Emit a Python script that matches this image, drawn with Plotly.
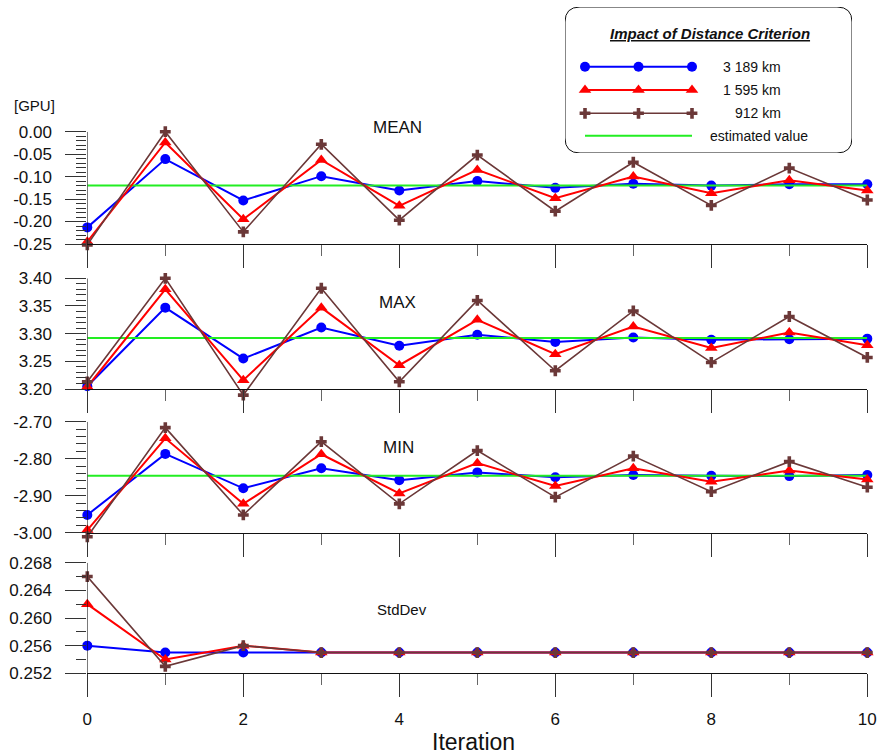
import plotly.graph_objects as go

# ---------------- data ----------------
iterations = list(range(11))
series_names = ["3 189 km", "1 595 km", "912 km"]

mean_3189 = [-0.213, -0.061, -0.153, -0.099, -0.131, -0.110, -0.125, -0.116, -0.120, -0.117, -0.117]
mean_1595 = [-0.245, -0.024, -0.195, -0.063, -0.165, -0.085, -0.148, -0.100, -0.137, -0.108, -0.131]
mean_912 = [-0.252, 0.000, -0.223, -0.028, -0.197, -0.052, -0.177, -0.068, -0.164, -0.081, -0.152]

max_3189 = [3.205, 3.347, 3.255, 3.311, 3.278, 3.298, 3.285, 3.293, 3.289, 3.290, 3.291]
max_1595 = [3.204, 3.380, 3.216, 3.347, 3.243, 3.325, 3.263, 3.313, 3.274, 3.302, 3.279]
max_912 = [3.213, 3.400, 3.189, 3.382, 3.213, 3.360, 3.233, 3.341, 3.248, 3.331, 3.257]

min_3189 = [-2.952, -2.787, -2.880, -2.826, -2.858, -2.837, -2.850, -2.844, -2.846, -2.847, -2.844]
min_1595 = [-2.993, -2.745, -2.922, -2.788, -2.894, -2.812, -2.874, -2.826, -2.862, -2.832, -2.856]
min_912 = [-3.011, -2.716, -2.952, -2.754, -2.922, -2.778, -2.904, -2.793, -2.889, -2.808, -2.877]

std_3189 = [0.256, 0.255, 0.255, 0.255, 0.255, 0.255, 0.255, 0.255, 0.255, 0.255, 0.255]
std_1595 = [0.262, 0.254, 0.256, 0.255, 0.255, 0.255, 0.255, 0.255, 0.255, 0.255, 0.255]
std_912 = [0.266, 0.253, 0.256, 0.255, 0.255, 0.255, 0.255, 0.255, 0.255, 0.255, 0.255]

estimated_mean = -0.120
estimated_max = 3.292
estimated_min = -2.846

panel_titles = ["MEAN", "MAX", "MIN", "StdDev"]
y_ranges = [[-0.25, 0.0], [3.20, 3.40], [-3.00, -2.70], [0.252, 0.268]]
y_extend = [0.006, 0.015, 0.015, 0.0]        # room below the axis for dipping marks
y_dticks = [0.05, 0.05, 0.10, 0.004]
y_minor = [0.01, 0.01, 0.02, 0.002]
y_decimals = [2, 2, 2, 3]
x_ticks = [0, 2, 4, 6, 8, 10]

# ---------------- styling ----------------
W, H = 880, 755
FONT = "Liberation Sans, Arial, sans-serif"
colors = ["#0000ff", "#ff0000", "#6b3838"]
symbols = ["circle", "triangle-up", "cross"]
msizes = [10, 11, 9]
lwidths = [2, 2, 1.6]
green = "#22ee22"

x_left, x_right = 87.3, 867.3
panel_px = [(131.7, 244.0), (278.3, 389.0), (421.7, 532.7), (562.7, 673.3)]


def py(p):
    return 1 - p / H


def px(p):
    return p / W


fig = go.Figure()

panel_data = [
    (mean_3189, mean_1595, mean_912, estimated_mean),
    (max_3189, max_1595, max_912, estimated_max),
    (min_3189, min_1595, min_912, estimated_min),
    (std_3189, std_1595, std_912, None),
]

for k, (s1, s2, s3, est) in enumerate(panel_data):
    xa = "x" if k == 0 else f"x{k+1}"
    ya = "y" if k == 0 else f"y{k+1}"
    seq = [(0, s1)]
    if est is not None:
        seq.append(("est", est))
    seq += [(1, s2), (2, s3)]
    for idx, vals in seq:
        if idx == "est":
            fig.add_trace(go.Scatter(
                x=[iterations[0], iterations[-1]], y=[vals, vals], mode="lines",
                line=dict(color=green, width=2), xaxis=xa, yaxis=ya,
                showlegend=False, hoverinfo="skip", cliponaxis=False))
        else:
            fig.add_trace(go.Scatter(
                x=iterations, y=vals, mode="lines+markers",
                line=dict(color=colors[idx], width=lwidths[idx]),
                marker=dict(symbol=symbols[idx], size=msizes[idx], color=colors[idx],
                            line=dict(width=0)),
                xaxis=xa, yaxis=ya, showlegend=False, name=series_names[idx],
                cliponaxis=False))

layout = dict(
    width=W, height=H, autosize=False,
    margin=dict(l=0, r=0, t=0, b=0, pad=0),
    paper_bgcolor="white", plot_bgcolor="rgba(0,0,0,0)",
    font=dict(family=FONT, size=16, color="#111"),
    showlegend=False,
)

for k in range(4):
    top, bot = panel_px[k]
    lo, hi = y_ranges[k]
    ppu = (bot - top) / (hi - lo)
    lo_ext = lo - y_extend[k]
    bot_ext = bot + y_extend[k] * ppu
    xn = "xaxis" if k == 0 else f"xaxis{k+1}"
    yn = "yaxis" if k == 0 else f"yaxis{k+1}"
    xa = "x" if k == 0 else f"x{k+1}"
    n_major = int(round((hi - lo) / y_dticks[k]))
    major_vals = [round(lo + i * y_dticks[k], 6) for i in range(n_major + 1)]
    major_text = [f"{v:.{y_decimals[k]}f}" for v in major_vals]
    n_minor = int(round((hi - lo) / y_minor[k]))
    minor_vals = [lo + i * y_minor[k] for i in range(n_minor + 1)]
    layout[xn] = dict(
        domain=[px(x_left), px(x_right)], anchor="free", position=py(bot),
        range=[0, 10], automargin=False,
        tickvals=x_ticks, ticks="outside", ticklen=23, tickcolor="#333", tickwidth=1,
        minor=dict(dtick=1, tick0=0, ticks="outside", ticklen=11, tickcolor="#666", tickwidth=1),
        showline=True, linecolor="#111", linewidth=1, showgrid=False, zeroline=False,
        showticklabels=(k == 3), tickfont=dict(size=17, family=FONT, color="#111"),
        ticklabelstandoff=7,
    )
    layout[yn] = dict(
        domain=[py(bot_ext), py(top)], anchor=xa, range=[lo_ext, hi], automargin=False,
        tickvals=major_vals, ticktext=major_text,
        ticks="outside", ticklen=21, tickcolor="#333", tickwidth=1,
        minor=dict(tickvals=minor_vals, ticks="outside", ticklen=10,
                   tickcolor="#333", tickwidth=1),
        showline=False, showgrid=False, zeroline=False,
        tickfont=dict(size=17, family=FONT, color="#111"), ticklabelstandoff=10,
    )
    fig.add_shape(type="line", xref=xa, yref=("y" if k == 0 else f"y{k+1}"),
                  x0=0, x1=0, y0=lo, y1=hi, line=dict(color="#111", width=1))

# legend overlay axis in pixel coordinates
LX0, LX1, LY0, LY1 = 565, 852, 7, 153
layout["xaxis5"] = dict(domain=[px(LX0), px(LX1)], range=[LX0, LX1], visible=False,
                        anchor="y5", fixedrange=True, automargin=False)
layout["yaxis5"] = dict(domain=[py(LY1), py(LY0)], range=[LY1, LY0], visible=False,
                        anchor="x5", fixedrange=True, automargin=False)
fig.update_layout(**layout)

r = 15
box_path = (f"M {LX0+r},{LY0} L {LX1-r},{LY0} Q {LX1},{LY0} {LX1},{LY0+r} "
            f"L {LX1},{LY1-r} Q {LX1},{LY1} {LX1-r},{LY1} L {LX0+r},{LY1} "
            f"Q {LX0},{LY1} {LX0},{LY1-r} L {LX0},{LY0+r} Q {LX0},{LY0} {LX0+r},{LY0} Z")
fig.add_shape(type="path", path=box_path, xref="x5", yref="y5",
              line=dict(color="#111", width=1), fillcolor="white", layer="below")

legend_rows = [66.7, 90.0, 113.3]
sample_x = [585, 638.5, 692]
for i in range(3):
    fig.add_trace(go.Scatter(
        x=sample_x, y=[legend_rows[i]] * 3, mode="lines+markers",
        line=dict(color=colors[i], width=lwidths[i]),
        marker=dict(symbol=symbols[i], size=msizes[i], color=colors[i], line=dict(width=0)),
        xaxis="x5", yaxis="y5", showlegend=False, hoverinfo="skip", cliponaxis=False))
    fig.add_annotation(x=783, y=legend_rows[i], xref="x5", yref="y5", text=series_names[i],
                       showarrow=False, xanchor="right", yanchor="middle",
                       font=dict(size=14, family=FONT, color="#111"))
fig.add_trace(go.Scatter(
    x=[sample_x[0], sample_x[-1]], y=[135.7, 135.7], mode="lines",
    line=dict(color=green, width=2), xaxis="x5", yaxis="y5",
    showlegend=False, hoverinfo="skip", cliponaxis=False))
fig.add_annotation(x=708, y=135.7, xref="x5", yref="y5", text="estimated value",
                   showarrow=False, xanchor="left", yanchor="middle",
                   font=dict(size=14, family=FONT, color="#111"))
fig.add_annotation(x=710, y=33, xref="x5", yref="y5",
                   text="<b><i><u>Impact of Distance Criterion</u></i></b>",
                   showarrow=False, xanchor="center", yanchor="middle",
                   font=dict(size=15, family=FONT, color="#111"))

label_pos = [(397, 127, 17), (397, 302, 17), (398, 447, 17), (402, 609, 15)]
for t, (lx, ly, fs) in zip(panel_titles, label_pos):
    fig.add_annotation(x=px(lx), y=py(ly), xref="paper", yref="paper", text=t,
                       showarrow=False, xanchor="center", yanchor="middle",
                       font=dict(size=fs, family=FONT, color="#111"))

fig.add_annotation(x=px(34), y=py(105), xref="paper", yref="paper", text="[GPU]",
                   showarrow=False, xanchor="center", yanchor="middle",
                   font=dict(size=15, family=FONT, color="#111"))
fig.add_annotation(x=px(473), y=py(742), xref="paper", yref="paper", text="Iteration",
                   showarrow=False, xanchor="center", yanchor="middle",
                   font=dict(size=23, family=FONT, color="#111"))

fig.write_html("out.html", config={"displayModeBar": False},
               post_script="document.body.style.margin='0px';document.body.style.padding='0px';")
